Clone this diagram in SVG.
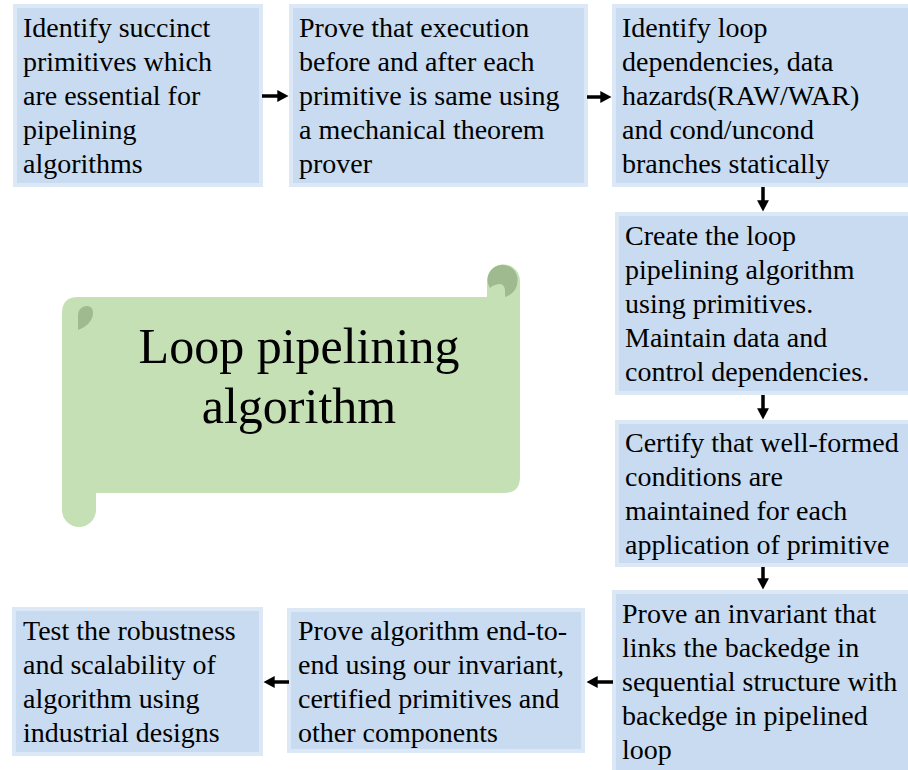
<svg xmlns="http://www.w3.org/2000/svg" width="908" height="770" viewBox="0 0 908 770">
  <style>
    .box { fill: #c8dbf0; stroke: #dce8f5; stroke-width: 4; }
    .txt { font-size: 28px; fill: #000; }
    .title { font-size: 50px; fill: #000; text-anchor: middle; }
    .conn { stroke: #000; stroke-width: 3.5; fill: none; }
    .scroll { fill: #c5e0b4; }
    .curl { fill: #a0ba8f; }
  </style>
  <defs>
    <marker id="head" markerWidth="4" markerHeight="4" refX="0.2" refY="2" orient="auto" markerUnits="strokeWidth" viewBox="0 0 4 4">
      <path d="M0,0.3 L3.2,2 L0,3.7 Z" fill="#000"/>
    </marker>
  </defs>

  <rect width="908" height="770" fill="#fff"/>

  <g font-family="Liberation Serif, Times New Roman, serif">
  <!-- scroll banner -->
  <g id="banner">
    <path class="scroll" d="M62 313 Q62 297 78 297 L487 297 L487 281 A16.5 16.5 0 0 1 520 281 L520 477 Q520 493 504 493 L96 493 L96 510 A17 17 0 0 1 62 510 Z"/>
    <path class="curl" d="M505 297 C512 295 517.5 289 517.5 281 A15 15 0 1 0 490 288 C493 285 497 284 500 284 C503 284 505 287 505 291 Z"/>
    <path class="curl" d="M78 330 L78 315 C78 309 83 306 87 306 C91 306 93 309 93 313 C93 321 86 327 78 330 Z"/>
    <text class="title" x="299" y="363">Loop pipelining</text>
    <text class="title" x="299" y="423">algorithm</text>
  </g>

  <g id="n1">
    <rect class="box" x="15" y="6" width="246" height="179"/>
    <text class="txt" x="23" y="37">Identify succinct</text>
    <text class="txt" x="23" y="71">primitives which</text>
    <text class="txt" x="23" y="105">are essential for</text>
    <text class="txt" x="23" y="139">pipelining</text>
    <text class="txt" x="23" y="173">algorithms</text>
  </g>

  <g id="n2">
    <rect class="box" x="291" y="6" width="295" height="179"/>
    <text class="txt" x="299" y="37">Prove that execution</text>
    <text class="txt" x="299" y="71">before and after each</text>
    <text class="txt" x="299" y="105">primitive is same using</text>
    <text class="txt" x="299" y="139">a mechanical theorem</text>
    <text class="txt" x="299" y="173">prover</text>
  </g>

  <g id="n3">
    <rect class="box" x="614" y="6" width="300" height="179"/>
    <text class="txt" x="622" y="37">Identify loop</text>
    <text class="txt" x="622" y="71">dependencies, data</text>
    <text class="txt" x="622" y="105">hazards(RAW/WAR)</text>
    <text class="txt" x="622" y="139">and cond/uncond</text>
    <text class="txt" x="622" y="173">branches statically</text>
  </g>

  <g id="n4">
    <rect class="box" x="617" y="214" width="300" height="179"/>
    <text class="txt" x="625" y="245">Create the loop</text>
    <text class="txt" x="625" y="279">pipelining algorithm</text>
    <text class="txt" x="625" y="313">using primitives.</text>
    <text class="txt" x="625" y="347">Maintain data and</text>
    <text class="txt" x="625" y="381">control dependencies.</text>
  </g>

  <g id="n5">
    <rect class="box" x="617" y="422" width="300" height="143"/>
    <text class="txt" x="625" y="452">Certify that well-formed</text>
    <text class="txt" x="625" y="486">conditions are</text>
    <text class="txt" x="625" y="520">maintained for each</text>
    <text class="txt" x="625" y="554">application of primitive</text>
  </g>

  <g id="n6">
    <rect class="box" x="614" y="592" width="300" height="190"/>
    <text class="txt" x="622" y="623">Prove an invariant that</text>
    <text class="txt" x="622" y="657">links the backedge in</text>
    <text class="txt" x="622" y="691">sequential structure with</text>
    <text class="txt" x="622" y="725">backedge in pipelined</text>
    <text class="txt" x="622" y="759">loop</text>
  </g>

  <g id="n7">
    <rect class="box" x="289" y="610" width="294" height="141"/>
    <text class="txt" x="298" y="640">Prove algorithm end-to-</text>
    <text class="txt" x="298" y="674">end using our invariant,</text>
    <text class="txt" x="298" y="708">certified primitives and</text>
    <text class="txt" x="298" y="742">other components</text>
  </g>

  <g id="n8">
    <rect class="box" x="14" y="609" width="247" height="145"/>
    <text class="txt" x="23" y="640">Test the robustness</text>
    <text class="txt" x="23" y="674">and scalability of</text>
    <text class="txt" x="23" y="708">algorithm using</text>
    <text class="txt" x="23" y="742">industrial designs</text>
  </g>
  </g>

  <g id="connectors">
    <line class="conn" x1="262" y1="96" x2="278" y2="96" marker-end="url(#head)"/>
    <line class="conn" x1="587" y1="97" x2="601" y2="97" marker-end="url(#head)"/>
    <line class="conn" x1="763" y1="187" x2="763" y2="201" marker-end="url(#head)"/>
    <line class="conn" x1="763" y1="395" x2="763" y2="409" marker-end="url(#head)"/>
    <line class="conn" x1="763" y1="567" x2="763" y2="579" marker-end="url(#head)"/>
    <line class="conn" x1="613" y1="682" x2="597" y2="682" marker-end="url(#head)"/>
    <line class="conn" x1="289" y1="682" x2="274" y2="682" marker-end="url(#head)"/>
  </g>
</svg>
